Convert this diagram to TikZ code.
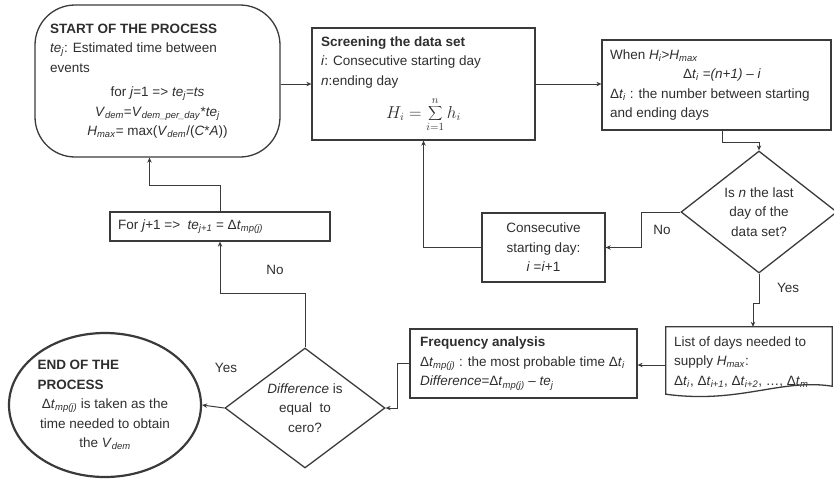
\documentclass[tikz,border=0pt]{standalone}
\usepackage{fontspec}
\setmainfont{Liberation Sans}
\usepackage{xcolor}
\definecolor{FlowInk}{HTML}{2E2E2E}
\definecolor{FlowLine}{HTML}{3A3A3A}
\usepackage{tikz}
\usetikzlibrary{arrows.meta,calc,positioning,shapes.geometric}
\newcommand{\vi}[1]{\textit{#1}}
\newcommand{\isub}[1]{\textsubscript{\textit{#1}}}
\newcommand{\lrow}[2]{\makebox[#1][l]{#2}}

\begin{document}
\begin{tikzpicture}[
  x=1pt,y=-1pt,
  every node/.style={font=\fontsize{13.5}{19.5}\selectfont,text=FlowInk},
  box/.style={rectangle,draw=FlowLine,line width=1.3pt,inner sep=0pt,align=center},
  decision/.style={diamond,aspect=1.3,draw=FlowLine,line width=1.3pt,inner sep=0pt,align=center},
  flow/.style={-{Stealth[length=5pt,width=4.5pt]},line width=1pt,draw=FlowLine}
]
\useasboundingbox (0,0) rectangle (834,480);

\node[box,rounded corners=40pt,minimum width=245pt,minimum height=152pt] (start) at (157.5,81)
  {\lrow{215pt}{\textbf{START OF THE PROCESS}}\\
   \lrow{215pt}{\vi{te}\isub{j}: Estimated time between}\\
   \lrow{215pt}{events}\\[5pt]
   for \vi{j}=1 => \vi{te}\isub{j}=\vi{ts}\\
   \vi{V}\isub{dem}=\vi{V}\isub{dem\_per\_day}*\vi{te}\isub{j}\\
   \vi{H}\isub{max}= max(\vi{V}\isub{dem}/(\vi{C}*\vi{A}))};
\node[box,minimum width=223pt,minimum height=112pt] (screen) at (423.5,84)
  {\lrow{205pt}{\textbf{Screening the data set}}\\
   \lrow{205pt}{\vi{i}: Consecutive starting day}\\
   \lrow{205pt}{\vi{n}:ending day}\\[9pt]
   {\fontsize{16}{18}\selectfont$\displaystyle H_i=\sum_{i=1}^{n} h_i$}};
\node[box,minimum width=229pt,minimum height=90pt] (when) at (716.5,85)
  {\lrow{213pt}{When \vi{H}\isub{i}>\vi{H}\isub{max}}\\
   \lrow{213pt}{\hspace*{73pt}Δ\vi{t}\isub{i} =\vi{(n+1)} – \vi{i}}\\
   \lrow{213pt}{Δ\vi{t}\isub{i} : the number between starting}\\
   \lrow{213pt}{and ending days}};
\node[decision,minimum width=156pt,minimum height=122pt] (lastday) at (759,212)
  {Is \vi{n} the last\\day of the\\data set?};
\node[box,minimum width=123pt,minimum height=69pt] (nextday) at (543.5,247.5)
  {Consecutive\\starting day:\\\vi{i} =\vi{i}+1};
\node[inner sep=0pt,minimum width=166pt,minimum height=70pt,align=center] (daylist) at (749,362)
  {\lrow{150pt}{List of days needed to}\\
   \lrow{150pt}{supply \vi{H}\isub{max}:}\\
   \lrow{150pt}{Δ\vi{t}\isub{i}, Δ\vi{t}\isub{i+1}, Δ\vi{t}\isub{i+2}, …, Δ\vi{t}\isub{m}}};
\draw[FlowLine,line width=1.3pt] (daylist.north west) -- (daylist.north east)
  -- ($(daylist.south east)+(0,-11)$)
  .. controls ($(daylist.south east)+(-52,-19)$) and ($(daylist.south west)+(74,7)$) .. ($(daylist.south west)+(0,-3)$)
  -- cycle;
\node[box,minimum width=227pt,minimum height=69pt] (freq) at (523.5,363.5)
  {\lrow{207pt}{\textbf{Frequency analysis}}\\
   \lrow{207pt}{Δ\vi{t}\isub{mp(j)} : the most probable time Δ\vi{t}\isub{i}}\\
   \lrow{207pt}{\vi{Difference}=Δ\vi{t}\isub{mp(j)} – \vi{te}\isub{j}}};
\node[decision,minimum width=160pt,minimum height=120pt] (zero) at (305,408)
  {\vi{Difference} is\\equal\ \ to\\cero?};
\node[ellipse,draw=FlowLine,line width=2.2pt,inner sep=0pt,align=center,minimum width=192pt,minimum height=144pt] (finish) at (105,405)
  {\lrow{135pt}{\textbf{END OF THE}}\\
   \lrow{135pt}{\textbf{PROCESS}}\\
   Δ\vi{t}\isub{mp(j)} is taken as the\\
   time needed to obtain\\
   the \vi{V}\isub{dem}};
\node[box,minimum width=220pt,minimum height=29pt] (nexte) at (220,226.5)
  {\lrow{204pt}{For \vi{j}+1 =>\ \ \vi{te}\isub{j+1} = Δ\vi{t}\isub{mp(j)}}};

\node (noA) at (662,230) {No};
\node (yesA) at (788,288) {Yes};
\node (noB) at (275,270) {No};
\node (yesB) at (226,368) {Yes};

\draw[flow] (start.east |- screen.west) -- (screen.west);
\draw[flow] (screen.east) -- (screen.east -| when.west);
\draw[flow] ([xshift=6pt]when.south) -- ++(0,12) -| (lastday.north);
\draw[flow] (lastday.west) -- ++(-39,0) |- (nextday.east);
\draw[flow] (nextday.west) -| (screen.south);
\draw[flow] (lastday.south) -- ++(0,30) -| ([xshift=4pt]daylist.north);
\draw[flow] ([yshift=-3pt]daylist.west) -- ([yshift=-3pt]daylist.west -| freq.east);
\draw[flow] (freq.west) -- ++(-12,0) |- (zero.east);
\draw[flow] (zero.west) -- (finish.east);
\draw[flow] (zero.north) -- ++(0,-54) -| (nexte.south);
\draw[flow] (nexte.north) -- ++(0,-26) -| ([xshift=-8pt]start.south);
\end{tikzpicture}
\end{document}
